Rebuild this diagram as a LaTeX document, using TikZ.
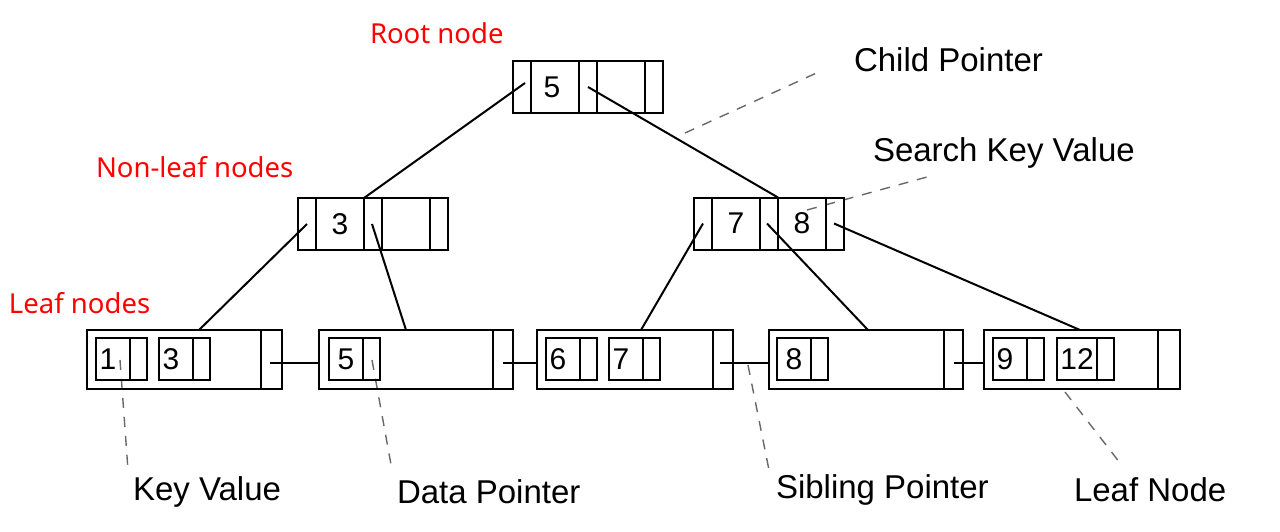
\documentclass[tikz,border=0pt]{standalone}
\usepackage{fontspec}
\setmainfont{Liberation Sans}
\newfontfamily\redfont{Noto Sans}
\usetikzlibrary{calc}
\definecolor{lblred}{RGB}{255,0,0}
\definecolor{dashgray}{RGB}{105,105,105}
\begin{document}
\begin{tikzpicture}[x=1pt,y=-1pt,line width=2pt,
  cell/.style={draw,line width=2pt,inner sep=0pt,outer sep=0pt,minimum height=52pt,anchor=west,font=\fontsize{30}{30}\selectfont},
  pcell/.style={cell,minimum width=18pt},
  kcell/.style={cell,minimum width=48pt},
  leafbox/.style={draw,line width=2pt,inner sep=0pt,outer sep=0pt,minimum height=59pt,anchor=west},
  key/.style={draw,line width=2pt,inner sep=0pt,outer sep=0pt,minimum height=42pt,minimum width=34pt,anchor=west,font=\fontsize{30}{30}\selectfont},
  keyleft/.style={key,execute at end node={\hspace*{10pt}}},
  dptr/.style={draw,line width=2pt,inner sep=0pt,outer sep=0pt,minimum height=42pt,minimum width=17pt,anchor=west},
  link/.style={draw,line width=2pt},
  note/.style={draw=dashgray,line width=1.4pt,dash pattern=on 10pt off 9pt},
  lbl/.style={inner sep=0pt,anchor=west,font=\fontsize{33}{33}\selectfont},
  redlbl/.style={inner sep=0pt,anchor=west,text=lblred,font=\redfont\fontsize{27.5}{27.5}\selectfont}
]
\fill[white] (0,0) rectangle (1280,531);
\useasboundingbox (0,0) rectangle (1280,531);

% dashed annotation lines
\coordinate (kva) at (120,360); \coordinate (kvb) at (128,470);
\coordinate (dpa) at (372,360); \coordinate (dpb) at (392,470);
\coordinate (spa) at (748,365); \coordinate (spb) at (770,475);
\coordinate (lna) at (1065,392); \coordinate (lnb) at (1120,463);
\coordinate (cpa) at (685,133); \coordinate (cpb) at (823,70);
\coordinate (ska) at (807,210); \coordinate (skb) at (927,177);
\draw[note] (kva) -- (kvb);
\draw[note] (dpa) -- (dpb);
\draw[note] (spa) -- (spb);
\draw[note] (lna) -- (lnb);
\draw[note] (cpa) -- (cpb);
\draw[note] (ska) -- (skb);

% root
\node[pcell] (r-p1) at (513,87) {};
\node[kcell,execute at end node={\hspace*{6pt}}] (r-k1) at (r-p1.east) {5};
\node[pcell] (r-p2) at (r-k1.east) {};
\node[kcell] (r-k2) at (r-p2.east) {};
\node[pcell] (r-p3) at (r-k2.east) {};

% non-leaf left
\node[pcell] (a-p1) at (298,224) {};
\node[kcell] (a-k1) at (a-p1.east) {3};
\node[pcell] (a-p2) at (a-k1.east) {};
\node[kcell] (a-k2) at (a-p2.east) {};
\node[pcell] (a-p3) at (a-k2.east) {};

% non-leaf right
\node[pcell] (b-p1) at (694,223.5) {};
\node[kcell] (b-k1) at (b-p1.east) {7};
\node[pcell] (b-p2) at (b-k1.east) {};
\node[kcell] (b-k2) at (b-p2.east) {8};
\node[pcell] (b-p3) at (b-k2.east) {};

% leaves
\node[leafbox,minimum width=174pt] (l1) at (87,359.5) {};
\node[leafbox,minimum width=21pt] (l1-s) at (l1.east) {};
\node[keyleft] (l1-k1) at (96,359) {1};
\node[dptr] (l1-d1) at (l1-k1.east) {};
\node[keyleft] (l1-k2) at (159,359) {3};
\node[dptr] (l1-d2) at (l1-k2.east) {};

\node[leafbox,minimum width=174pt] (l2) at (319,359.5) {};
\node[leafbox,minimum width=20pt] (l2-s) at (l2.east) {};
\node[key] (l2-k1) at (329,359) {5};
\node[dptr] (l2-d1) at (l2-k1.east) {};

\node[leafbox,minimum width=176pt] (l3) at (537,359.5) {};
\node[leafbox,minimum width=20pt] (l3-s) at (l3.east) {};
\node[keyleft] (l3-k1) at (546,359) {6};
\node[dptr] (l3-d1) at (l3-k1.east) {};
\node[keyleft] (l3-k2) at (609,359) {7};
\node[dptr] (l3-d2) at (l3-k2.east) {};

\node[leafbox,minimum width=175pt] (l4) at (769,359.5) {};
\node[leafbox,minimum width=19pt] (l4-s) at (l4.east) {};
\node[key] (l4-k1) at (777,359) {8};
\node[dptr] (l4-d1) at (l4-k1.east) {};

\node[leafbox,minimum width=174pt] (l5) at (984,359.5) {};
\node[leafbox,minimum width=22pt] (l5-s) at (l5.east) {};
\node[keyleft] (l5-k1) at (993,359) {9};
\node[dptr] (l5-d1) at (l5-k1.east) {};
\node[key,minimum width=40pt] (l5-k2) at (1057,359) {12};
\node[dptr] (l5-d2) at (l5-k2.east) {};

% tree connectors
\coordinate (t1) at ($(l1.north west)+(112,0)$);
\coordinate (t2) at ($(l2.north west)+(87,0)$);
\coordinate (t3) at ($(l3.north west)+(104,0)$);
\coordinate (t4) at ($(l4.north west)+(99,0)$);
\coordinate (t5) at ($(l5.north west)+(96,0)$);
\draw[link] ($(r-p1.center)+(3,-4)$) -- (a-p2.north west);
\draw[link] (r-p2.center) -- (b-p2.north east);
\draw[link] (a-p1.center) -- (t1);
\draw[link] ($(a-p2.center)+(-1,0)$) -- (t2);
\draw[link] (b-p1.center) -- (t3);
\draw[link] ($(b-p2.center)+(-2,0)$) -- (t4);
\draw[link] ($(b-p3.center)+(-1,0)$) -- (t5);

% sibling pointers
\draw[link] ($(l1-s.center)+(-2,3)$) -- ($(l2.west)+(0,3)$);
\draw[link] ($(l2-s.center)+(0,3)$) -- ($(l3.west)+(0,3)$);
\draw[link] ($(l3-s.center)+(-3,3)$) -- ($(l4.west)+(0,3)$);
\draw[link] ($(l4-s.center)+(0,3)$) -- ($(l5.west)+(0,3)$);

% labels
\node[redlbl] (root) at (369,33) {Root node};
\node[redlbl] (nonleaf) at (95,167) {Non-leaf nodes};
\node[redlbl] (leafs) at (8,303) {Leaf nodes};
\node[lbl] (cp) at (853,60) {Child Pointer};
\node[lbl] (sk) at (872,153) {Search Key Value};
\node[lbl] (kv) at (132,492) {Key Value};
\node[lbl] (dp) at (396,492) {Data Pointer};
\node[lbl] (sp) at (775,490) {Sibling Pointer};
\node[lbl] (ln) at (1073,490) {Leaf Node};
\end{tikzpicture}
\end{document}
